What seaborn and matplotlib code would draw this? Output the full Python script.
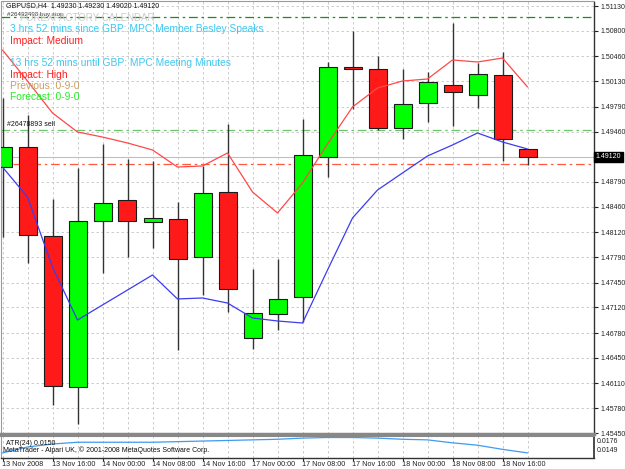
import numpy as np
import pandas as pd
import matplotlib
matplotlib.use("Agg")
import matplotlib.pyplot as plt
import seaborn as sns

# GBPUSD H4 candles, 13 Nov 2008 08:00 .. 18 Nov 2008 20:00
opens = [1.48988, 1.49258, 1.48071, 1.46062, 1.48266, 1.48549, 1.48253, 1.48297,
         1.47787, 1.48652, 1.46718, 1.47029, 1.47255, 1.49125, 1.50323, 1.50292,
         1.49511, 1.49836, 1.50083, 1.49946, 1.50208, 1.49230]
highs = [1.49906, 1.49680, 1.48567, 1.48975, 1.49290, 1.49099, 1.49068, 1.48527,
         1.49006, 1.49560, 1.47632, 1.47765, 1.49631, 1.50389, 1.50801, 1.50465,
         1.50288, 1.50248, 1.50908, 1.50368, 1.50514, 1.49230]
lows = [1.48057, 1.47715, 1.45822, 1.45570, 1.47582, 1.47795, 1.47907, 1.46554,
        1.47286, 1.47064, 1.46563, 1.46820, 1.46923, 1.48859, 1.49760, 1.49481,
        1.49357, 1.49591, 1.49534, 1.49769, 1.49072, 1.49020]
closes = [1.49250, 1.48080, 1.46075, 1.48274, 1.48514, 1.48266, 1.48306, 1.47765,
          1.48639, 1.47370, 1.47042, 1.47233, 1.49148, 1.50315, 1.50296, 1.49503,
          1.49822, 1.50115, 1.49982, 1.50221, 1.49357, 1.49120]

upper_line = [1.50545, 1.50132, 1.49707, 1.49454, 1.49387, 1.49308, 1.49215, 1.48988,
              1.49002, 1.49175, 1.48656, 1.48377, 1.48776, 1.49294, 1.49787, 1.50039,
              1.50132, 1.50159, 1.50412, 1.50385, 1.50438, 1.50053]
lower_line = [1.48988, 1.48589, 1.47658, 1.46953, 1.47153, 1.47352, 1.47552, 1.47233,
              1.47246, 1.47179, 1.46980, 1.46940, 1.46913, 1.47618, 1.48310, 1.48682,
              1.48909, 1.49135, 1.49281, 1.49441, 1.49321, 1.49228]
atr = [0.0150, 0.0160, 0.0165, 0.0168, 0.0168, 0.0168, 0.0168, 0.0169, 0.0170, 0.0171,
       0.0172, 0.0173, 0.0175, 0.0176, 0.0176, 0.0175, 0.0173, 0.0172, 0.0167, 0.0163,
       0.0156, 0.0150]

price_ticks = [1.51130, 1.50800, 1.50460, 1.50130, 1.49790, 1.49460, 1.49120, 1.48790,
               1.48460, 1.48120, 1.47790, 1.47450, 1.47120, 1.46780, 1.46450, 1.46110,
               1.45780, 1.45450]
time_labels = ["13 Nov 2008", "13 Nov 16:00", "14 Nov 00:00", "14 Nov 08:00",
               "14 Nov 16:00", "17 Nov 00:00", "17 Nov 08:00", "17 Nov 16:00",
               "18 Nov 00:00", "18 Nov 08:00", "18 Nov 16:00"]

buy_stop = 1.50988
sell_price = 1.49481
stop_level = 1.49028
bid = 1.49120

df = pd.DataFrame({"bar": np.arange(len(opens)), "open": opens, "high": highs,
                   "low": lows, "close": closes, "upper": upper_line,
                   "lower": lower_line, "atr": atr})

sns.set_theme(style="white")
plt.rcParams["font.family"] = ["Liberation Sans", "DejaVu Sans"]

W, H = 625, 469
fig = plt.figure(figsize=(W / 100, H / 100), dpi=100)
fig.patch.set_facecolor("white")


def px_box(left, top, right, bottom):
    return [left / W, 1 - bottom / H, (right - left) / W, (bottom - top) / H]


ax = fig.add_axes(px_box(1, 1.5, 594, 434))
ax2 = fig.add_axes(px_box(1, 436, 594, 458))

px_per_price = 427 / (1.51130 - 1.45450)
ax.set_ylim(1.45450 - 1 / px_per_price, 1.51130 + 4.5 / px_per_price)
xlim = (-0.06, (594 - 2.5) / 25)
ax.set_xlim(*xlim)
ax2.set_xlim(*xlim)

grid_kw = dict(color="#c4c4c4", lw=0.6, ls=(0, (3, 3)), zorder=0)
for b in df["bar"]:
    ax.axvline(b, **grid_kw)
    ax2.axvline(b, **grid_kw)
for p in price_ticks:
    ax.axhline(p, **grid_kw)

# order / stop levels and bid line
ax.axhline(buy_stop, color="#1f8a1f", lw=0.9, ls=(0, (7, 3, 2, 3)), zorder=1)
ax.axhline(sell_price, color="#6cc46c", lw=0.9, ls=(0, (7, 3, 2, 3)), zorder=1)
ax.axhline(stop_level, xmin=0.02, color="#ff5a3c", lw=0.9, ls=(0, (7, 3, 2, 3)), zorder=1)
ax.axhline(bid, color="#c0c0c0", lw=0.8, zorder=1)

# candles
up = df["close"] >= df["open"]
body_bottom = np.minimum(df["open"], df["close"])
body_h = np.abs(df["close"] - df["open"])
ax.vlines(df["bar"], df["low"], df["high"], color="#333333", lw=1.0, zorder=2)
ax.bar(df["bar"], body_h, bottom=body_bottom, width=0.72,
       color=np.where(up, "#00ff00", "#ff1a1a"), edgecolor="#1a1a1a",
       linewidth=0.8, zorder=3)

sns.lineplot(data=df, x="bar", y="upper", color="#ff4848", lw=0.9, ax=ax, zorder=4)
sns.lineplot(data=df, x="bar", y="lower", color="#3c3cf0", lw=0.9, ax=ax, zorder=4)

ax.yaxis.tick_right()
ax.set_yticks(price_ticks)
ax.set_yticklabels(["" if p == bid else f"{p:.5f}" for p in price_ticks])
ax.tick_params(axis="y", which="both", right=True, length=3, width=0.8,
               labelsize=5, pad=1.5, colors="#222222")
ax.set_xticks([])
ax.set_xlabel("")
ax.set_ylabel("")
for s in ["top", "left"]:
    ax.spines[s].set_color("#9a9a9a")
    ax.spines[s].set_linewidth(0.8)
ax.spines["right"].set_color("#333333")
ax.spines["right"].set_linewidth(1.0)
ax.spines["bottom"].set_color("#888888")
ax.spines["bottom"].set_linewidth(2.5)

# bid marker on the price scale
fig.text(595.5 / W, 1 - 157 / H, "1.49120", fontsize=5, color="white",
         va="center", ha="left",
         bbox=dict(boxstyle="square,pad=0.25", fc="black", ec="black"))

# ATR sub-window
atr_px = 16 / (0.0176 - 0.0149)
ax2.set_ylim(0.0149 - 4.5 / atr_px, 0.0176 + 1.5 / atr_px)
sns.lineplot(data=df, x="bar", y="atr", color="#3d9bf0", lw=0.9, ax=ax2)
ax2.yaxis.tick_right()
ax2.set_yticks([0.0176, 0.0149])
ax2.set_yticklabels(["0.0176", "0.0149"])
ax2.tick_params(axis="y", right=True, length=0, labelsize=5, pad=2, colors="#222222")
atr_labels = ax2.get_yticklabels()
atr_labels[0].set_verticalalignment("top")
atr_labels[1].set_verticalalignment("bottom")
ax2.set_xticks(df["bar"][::2])
ax2.set_xticklabels(time_labels, ha="left")
ax2.tick_params(axis="x", bottom=True, length=2, width=0.8, labelsize=5.2, pad=0.5,
                colors="#222222")
ax2.set_xlabel("")
ax2.set_ylabel("")
ax2.spines["top"].set_color("#888888")
ax2.spines["top"].set_linewidth(1.5)
ax2.spines["left"].set_color("#9a9a9a")
ax2.spines["left"].set_linewidth(0.8)
ax2.spines["right"].set_color("#333333")
ax2.spines["bottom"].set_color("#333333")
ax2.spines["bottom"].set_linewidth(1.0)


def label(x, y, s, size, color):
    fig.text(x / W, 1 - y / H, s, fontsize=size, color=color, va="center", ha="left")


label(6, 6, "GBPUSD,H4  1.49230 1.49230 1.49020 1.49120", 5, "#111111")
label(7, 14.5, "#26492498 buy stop", 4.5, "#333333")
label(20, 18, "FOREXFACTORY CALENDAR", 7, "#cccccc")
label(10, 29, "3 hrs 52 mins since GBP: MPC Member Besley Speaks", 7.4, "#3cc8f0")
label(10, 41, "Impact: Medium", 7.4, "#ff2020")
label(10, 63, "13 hrs 52 mins until GBP: MPC Meeting Minutes", 7.4, "#3cc8f0")
label(10, 75, "Impact: High", 7.4, "#ff2020")
label(10, 86, "Previous: 0-9-0", 7.4, "#c8a064")
label(10, 97, "Forecast: 0-9-0", 7.4, "#22ee22")
label(7, 125, "#26478893 sell", 5, "#111111")
label(6, 443, "ATR(24) 0.0150", 5, "#111111")
label(3, 450, "MetaTrader - Alpari UK, \u00a9 2001-2008 MetaQuotes Software Corp.", 5, "#111111")

fig.savefig("out.png", dpi=100, facecolor="white")
